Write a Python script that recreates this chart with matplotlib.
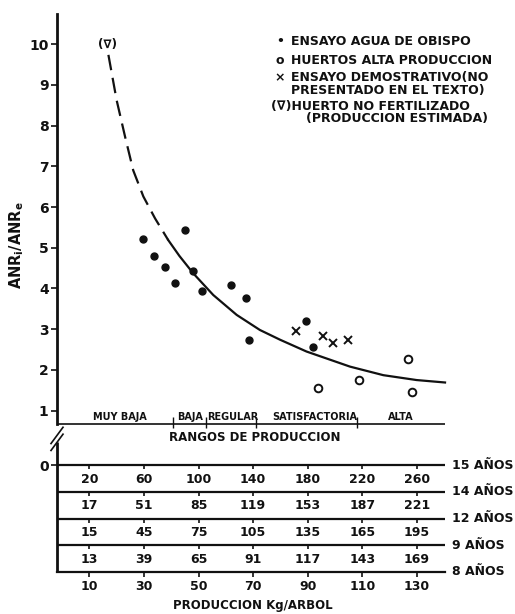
#!/usr/bin/env python3
"""
ANRi/ANRe vs produccion (Kg/arbol) con tabla de equivalencias por edad
"""

import matplotlib
matplotlib.use("Agg")
import matplotlib.pyplot as plt

plt.rcParams['font.family'] = ['DejaVu Sans']
plt.rcParams['mathtext.fontset'] = 'dejavusans'

# ensayo agua de obispo (puntos llenos)
obispo_x = [29.7, 33.7, 37.6, 41.4, 45.1, 48.1, 51.4, 61.9, 67.4, 68.5, 89.4, 91.8]
obispo_y = [5.21, 4.81, 4.52, 4.14, 5.44, 4.44, 3.94, 4.08, 3.77, 2.74, 3.19, 2.57]

# huertos alta produccion (circulos abiertos)
alta_x = [93.9, 108.9, 126.6, 128.1]
alta_y = [1.55, 1.75, 2.26, 1.45]

# ensayo demostrativo (cruces)
demo_x = [85.7, 95.5, 99.2, 104.9]
demo_y = [2.96, 2.84, 2.67, 2.73]

# curva ajustada, tramo estimado (discontinuo) y tramo medido
curva_est_x = [17.0, 20.0, 23.1, 26.1, 29.8, 34.1, 38.9]
curva_est_y = [9.74, 8.63, 7.73, 6.90, 6.26, 5.72, 5.19]
curva_x = [38.9, 43.0, 48.1, 55.4, 64.0, 72.5, 79.9, 89.6, 105.5, 117.7, 129.9, 140.3]
curva_y = [5.19, 4.80, 4.37, 3.84, 3.35, 2.98, 2.74, 2.45, 2.08, 1.87, 1.75, 1.69]

# rangos de produccion
rango_limites = [40.8, 52.6, 71.0, 107.9]
rango_nombres = ['MUY BAJA', 'BAJA', 'REGULAR', 'SATISFACTORIA', 'ALTA']
rango_centros = [21.2, 46.9, 62.6, 92.5, 124.2]

# tabla de equivalencias (kg/arbol segun edad)
edades = ['15 AÑOS', '14 AÑOS', '12 AÑOS', '9 AÑOS', '8 AÑOS']
prod_kg = [10, 30, 50, 70, 90, 110, 130]
filas = [
    [20, 60, 100, 140, 180, 220, 260],
    [17, 51, 85, 119, 153, 187, 221],
    [15, 45, 75, 105, 135, 165, 195],
    [13, 39, 65, 91, 117, 143, 169],
]

y_ticks = [1, 2, 3, 4, 5, 6, 7, 8, 9, 10]

# ---------------------------------------------------------------
INK = '#111111'
X0, X1 = -1.83, 140.3          # eje vertical y fin de las lineas
Y_RANGO = 0.67                 # linea de rangos
Y_CERO = -0.34                 # posicion del "0" tras el corte
DY = 0.656                     # alto de cada fila de la tabla

fig = plt.figure(figsize=(5.15, 6.14), dpi=100)
ax = fig.add_axes([0, 0, 1, 1])
ax.set_xlim(-22.71, 165.93)
ax.set_ylim(-3.998, 11.088)

for s in ['top', 'right']:
    ax.spines[s].set_visible(False)

# eje vertical
ax.spines['left'].set_position(('data', X0))
ax.spines['left'].set_bounds(Y_RANGO, 10.75)
ax.spines['left'].set_linewidth(2.0)
ax.spines['left'].set_color(INK)
ax.set_yticks([Y_CERO] + y_ticks)
ax.set_yticklabels(['0'] + [str(v) for v in y_ticks])
ax.tick_params(axis='y', direction='out', length=4, width=1.2, pad=2,
               labelsize=10, colors=INK)
for lab in ax.get_yticklabels():
    lab.set_fontweight('bold')

y_lineas = [Y_CERO - k * DY for k in range(len(edades))]

# eje inferior = linea de 8 anos
ax.spines['bottom'].set_position(('data', y_lineas[-1]))
ax.spines['bottom'].set_bounds(X0, X1)
ax.spines['bottom'].set_linewidth(1.6)
ax.spines['bottom'].set_color(INK)
ax.set_xticks(prod_kg)
ax.set_xticklabels([str(v) for v in prod_kg])
ax.tick_params(axis='x', direction='out', length=3.5, width=1.2, pad=2,
               labelsize=9, colors=INK)
for lab in ax.get_xticklabels():
    lab.set_fontweight('bold')

# parte inferior del eje vertical y marca de corte
ax.vlines(X0, y_lineas[-1], 0.22, color=INK, lw=2.0)
for dy in [0.0, 0.17]:
    ax.plot([X0 - 2.2, X0 + 2.2], [0.02 + dy, 0.42 + dy], color=INK, lw=1.2)

# curva
ax.plot(curva_est_x, curva_est_y, color=INK, lw=1.6, dashes=(7, 3.5))
ax.plot(curva_x, curva_y, color=INK, lw=1.6)
ax.text(curva_est_x[0] - 0.3, 10.0, '(∇)', fontsize=8.5, fontweight='bold',
        ha='center', va='center', color=INK)

# datos
ax.plot(obispo_x, obispo_y, 'o', ms=5, color=INK)
ax.plot(alta_x, alta_y, 'o', ms=5.5, mfc='white', mec=INK, mew=1.4)
ax.plot(demo_x, demo_y, 'x', ms=5.5, color=INK, mew=1.4)

# rangos de produccion
ax.hlines(Y_RANGO, X0, X1, color=INK, lw=1.2)
ax.vlines(rango_limites, Y_RANGO - 0.1, Y_RANGO + 0.17, color=INK, lw=1.0)
for nombre, xc in zip(rango_nombres, rango_centros):
    ax.text(xc, Y_RANGO + 0.05, nombre, fontsize=7, fontweight='bold',
            ha='center', va='bottom', color=INK)
ax.text(70.5, 0.35, 'RANGOS DE PRODUCCION', fontsize=8.5, fontweight='bold',
        ha='center', va='center', color=INK)

# tabla
ax.hlines(y_lineas[:-1], X0, X1, color=INK, lw=1.6)
for y, edad in zip(y_lineas, edades):
    ax.text(X1 + 2.6, y, edad, fontsize=9, fontweight='bold',
            ha='left', va='center', color=INK)
for k, fila in enumerate(filas):
    y_top = y_lineas[k]
    ax.vlines(prod_kg, y_top - 0.1, y_top, color=INK, lw=1.2)
    for xv, val in zip(prod_kg, fila):
        ax.text(xv, y_top - DY / 2 - 0.02, str(val), fontsize=9,
                fontweight='bold', ha='center', va='center', color=INK)

ax.text(69.9, -3.8, 'PRODUCCION Kg/ARBOL', fontsize=8.5, fontweight='bold',
        ha='center', va='center', color=INK)

# eje y: etiqueta
ax.text(-16.5, 5.07, r'$\mathbf{ANR_i/ANR_e}$', fontsize=10.5, rotation=90,
        ha='center', va='center', color=INK)

# leyenda
ley = [
    ('•', 'ENSAYO AGUA DE OBISPO', 10.08),
    ('o', 'HUERTOS ALTA PRODUCCION', 9.61),
    ('×', 'ENSAYO DEMOSTRATIVO(NO\nPRESENTADO EN EL TEXTO)', 9.03),
]
for sim, txt, y in ley:
    ax.text(79.9, y if '\n' not in txt else y + 0.14, sim, fontsize=9,
            fontweight='bold', ha='center', va='center', color=INK)
    ax.text(84.0, y, txt, fontsize=9, fontweight='bold', ha='left',
            va='center', color=INK, linespacing=0.95)
ax.text(76.4, 8.32, '(∇)HUERTO NO FERTILIZADO\n        (PRODUCCION ESTIMADA)',
        fontsize=9, fontweight='bold', ha='left', va='center', color=INK,
        linespacing=0.95)

plt.savefig('out.png', dpi=100)
